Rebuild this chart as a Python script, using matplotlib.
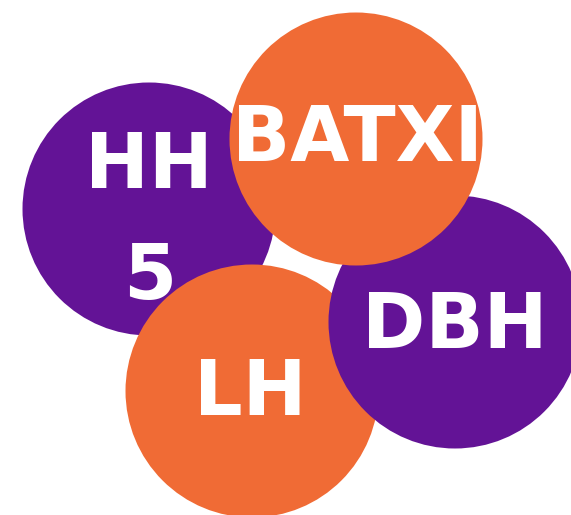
import matplotlib
matplotlib.use("Agg")
import matplotlib.pyplot as plt
from matplotlib.patches import Circle

# Data
labels = ["HH\n5", "LH", "DBH", "BATXI"]
values = [1, 1, 1, 1]  # equal-size bubbles
center_x = [149, 252, 455, 356]
center_y = [209, 391, 322, 139]
colors = ["#631396", "#f06b35", "#631396", "#f06b35"]

PURPLE = "#631396"
ORANGE = "#f06b35"
base_radius = 126.5

fig = plt.figure(figsize=(5.71, 5.15), dpi=100)
ax = fig.add_axes([0, 0, 1, 1])
ax.set_xlim(0, 571)
ax.set_ylim(515, 0)
ax.set_aspect("equal")
ax.axis("off")

for i, (lab, v, x, y, c) in enumerate(zip(labels, values, center_x, center_y, colors)):
    r = base_radius * v ** 0.5
    ax.add_patch(Circle((x, y), r, facecolor=c, edgecolor="none", zorder=1 + i))

fs = 55
txt_kw = dict(color="white", fontsize=fs, fontweight="bold", ha="center",
              va="baseline", family="DejaVu Sans", zorder=10)
# HH 5: two lines
ax.text(center_x[0], 188, "HH", **txt_kw)
ax.text(center_x[0] + 1, 299, "5", **txt_kw)
ax.text(center_x[1] - 2, 415, labels[1], **txt_kw)
ax.text(center_x[2], 348, labels[2], **txt_kw)
ax.text(center_x[3] + 1, 161, labels[3], **txt_kw)

fig.savefig("out.png", dpi=100, facecolor="white")
